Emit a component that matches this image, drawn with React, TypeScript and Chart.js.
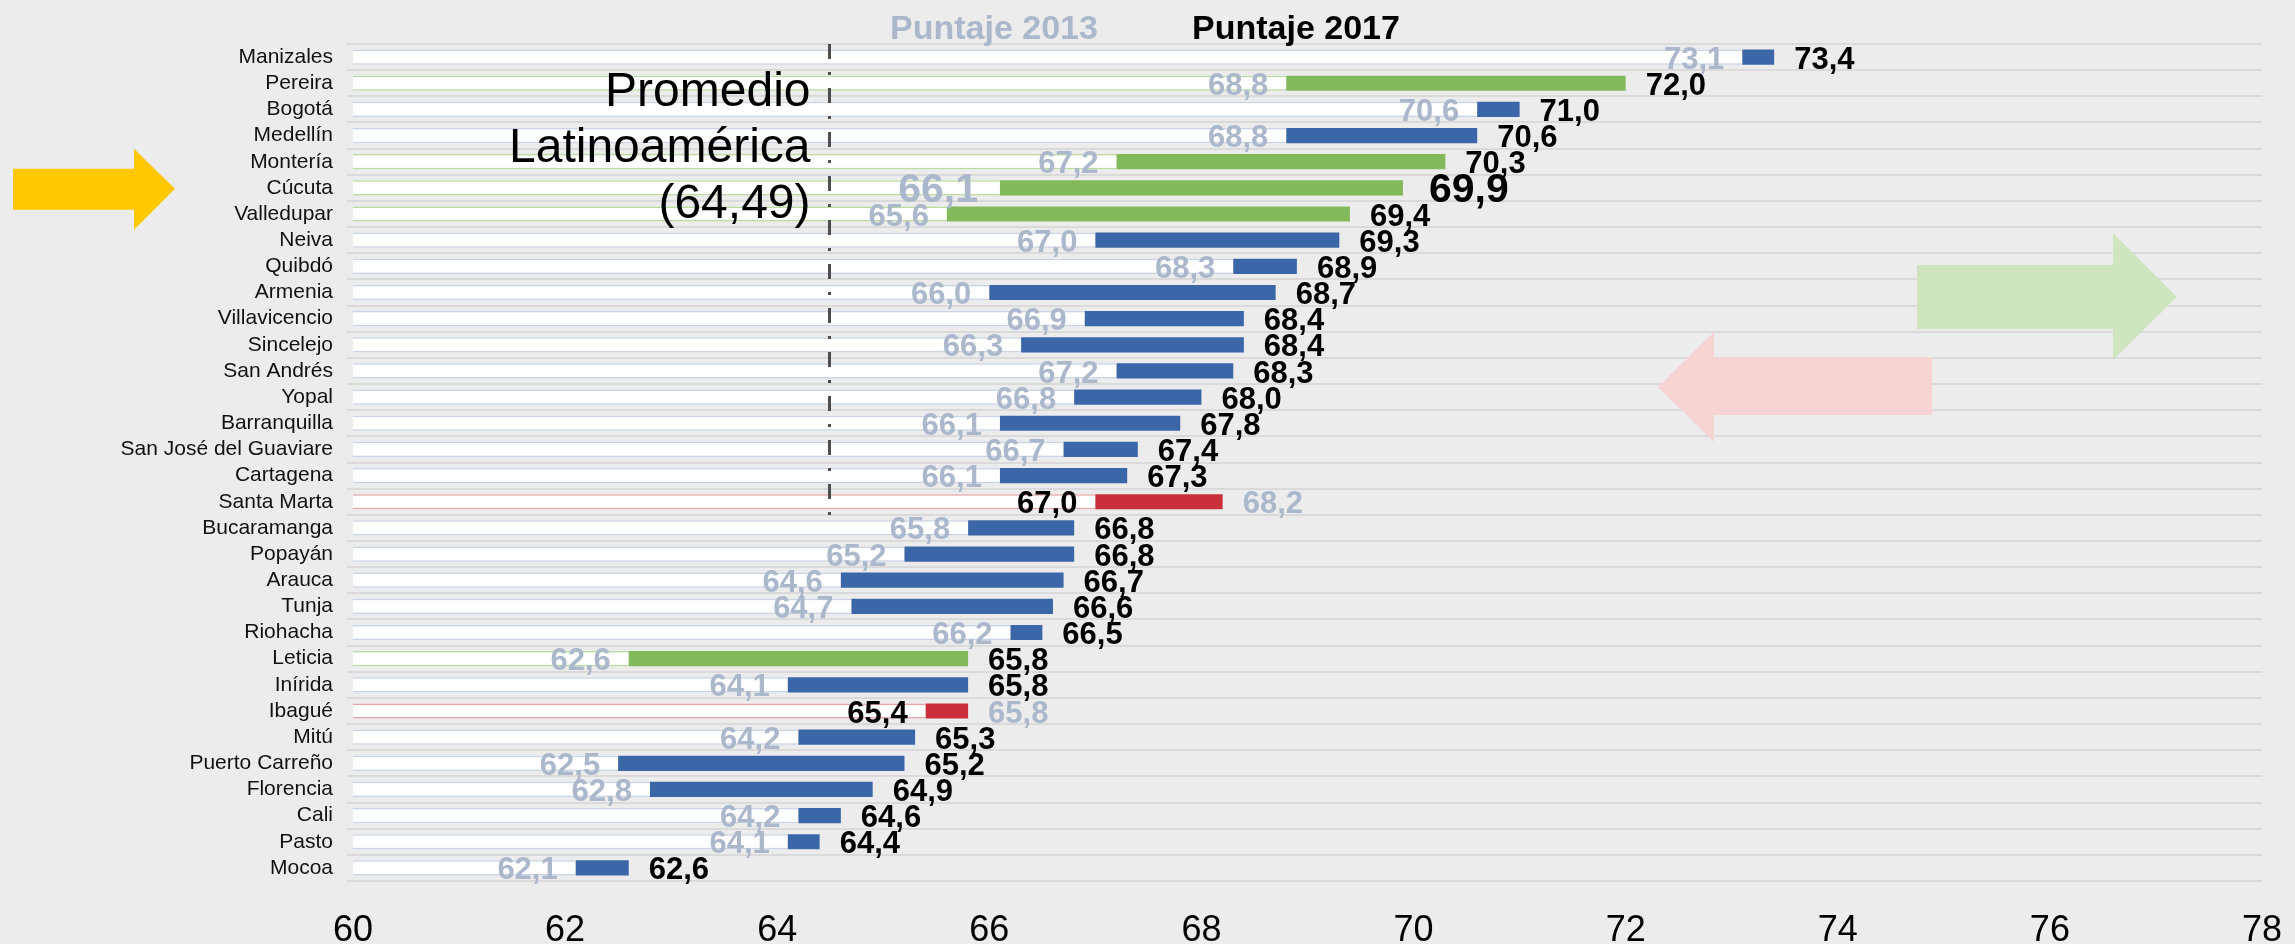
import React, { useEffect, useRef } from 'react';
import { Chart, registerables } from 'chart.js';

Chart.register(...registerables);

// ---------------- Datos ----------------
const ciudades = [
  'Manizales', 'Pereira', 'Bogotá', 'Medellín', 'Montería', 'Cúcuta', 'Valledupar', 'Neiva',
  'Quibdó', 'Armenia', 'Villavicencio', 'Sincelejo', 'San Andrés', 'Yopal', 'Barranquilla',
  'San José del Guaviare', 'Cartagena', 'Santa Marta', 'Bucaramanga', 'Popayán', 'Arauca',
  'Tunja', 'Riohacha', 'Leticia', 'Inírida', 'Ibagué', 'Mitú', 'Puerto Carreño', 'Florencia',
  'Cali', 'Pasto', 'Mocoa',
];
const puntaje2013 = [
  73.1, 68.8, 70.6, 68.8, 67.2, 66.1, 65.6, 67.0,
  68.3, 66.0, 66.9, 66.3, 67.2, 66.8, 66.1,
  66.7, 66.1, 68.2, 65.8, 65.2, 64.6,
  64.7, 66.2, 62.6, 64.1, 65.8, 64.2, 62.5, 62.8,
  64.2, 64.1, 62.1,
];
const puntaje2017 = [
  73.4, 72.0, 71.0, 70.6, 70.3, 69.9, 69.4, 69.3,
  68.9, 68.7, 68.4, 68.4, 68.3, 68.0, 67.8,
  67.4, 67.3, 67.0, 66.8, 66.8, 66.7,
  66.6, 66.5, 65.8, 65.8, 65.4, 65.3, 65.2, 64.9,
  64.6, 64.4, 62.6,
];
const grupo = [
  'azul', 'verde', 'azul', 'azul', 'verde', 'verde', 'verde', 'azul',
  'azul', 'azul', 'azul', 'azul', 'azul', 'azul', 'azul',
  'azul', 'azul', 'rojo', 'azul', 'azul', 'azul',
  'azul', 'azul', 'verde', 'azul', 'rojo', 'azul', 'azul', 'azul',
  'azul', 'azul', 'azul',
];
const ticksX = [60, 62, 64, 66, 68, 70, 72, 74, 76, 78];
const promedioLatam = 64.49;
const ciudadDestacada = 'Cúcuta';
const ciudadFinPromedio = 'Bucaramanga';
const titulo2013 = 'Puntaje 2013';
const titulo2017 = 'Puntaje 2017';
const textoPromedio = ['Promedio', 'Latinoamérica', '(64,49)'];

// ---------------- Estilo ----------------
const FONT = '"Liberation Sans", Arial, Helvetica, sans-serif';
const COLORES: Record<string, string> = { azul: '#3b67a8', verde: '#81b95b', rojo: '#c9303a' };
const BORDES: Record<string, string> = { azul: '#c9d5e7', verde: '#b9dc9f', rojo: '#eba4a8' };
const GRIS = '#abb8cb';
const FONDO = '#ececec';

const fmt = (v: number) => v.toFixed(1).replace('.', ',');

const fondoPlugin = {
  id: 'fondo',
  beforeDraw(chart: any) {
    const { ctx, width, height } = chart;
    ctx.save();
    ctx.fillStyle = FONDO;
    ctx.fillRect(0, 0, width, height);
    ctx.restore();
  },
};

function flecha(ctx: CanvasRenderingContext2D, pts: number[][], color: string) {
  ctx.beginPath();
  ctx.moveTo(pts[0][0], pts[0][1]);
  for (let i = 1; i < pts.length; i++) ctx.lineTo(pts[i][0], pts[i][1]);
  ctx.closePath();
  ctx.fillStyle = color;
  ctx.fill();
}

const decoracionesPlugin = {
  id: 'decoraciones',
  afterDatasetsDraw(chart: any) {
    const { ctx, chartArea } = chart;
    const xs = chart.scales.x;
    const ys = chart.scales.y;
    ctx.save();

    // Línea promedio Latinoamérica
    const xp = Math.round(xs.getPixelForValue(promedioLatam)) + 0.5;
    const yFin = ys.getPixelForValue(ciudades.indexOf(ciudadFinPromedio)) - 9;
    ctx.strokeStyle = '#4d4d4d';
    ctx.lineWidth = 3;
    ctx.setLineDash([15, 13, 3, 13]);
    ctx.beginPath();
    ctx.moveTo(xp, chartArea.top);
    ctx.lineTo(xp, yFin);
    ctx.stroke();
    ctx.setLineDash([]);

    // Texto promedio
    ctx.fillStyle = '#000';
    ctx.font = `48px ${FONT}`;
    ctx.textAlign = 'right';
    ctx.textBaseline = 'alphabetic';
    textoPromedio.forEach((t, i) => {
      ctx.fillText(t, xp - 19, chartArea.top + 62 + i * 56);
    });

    // Títulos
    ctx.font = `bold 34px ${FONT}`;
    ctx.textAlign = 'center';
    ctx.fillStyle = GRIS;
    ctx.fillText(titulo2013, 994, 39);
    ctx.fillStyle = '#000';
    ctx.fillText(titulo2017, 1296, 39);

    // Etiquetas de valores
    ctx.textBaseline = 'middle';
    ciudades.forEach((c, i) => {
      const a = puntaje2013[i];
      const b = puntaje2017[i];
      const y = ys.getPixelForValue(i) + 3;
      const grande = c === ciudadDestacada;
      ctx.font = `bold ${grande ? 41 : 31}px ${FONT}`;
      const x0 = xs.getPixelForValue(Math.min(a, b));
      const x1 = xs.getPixelForValue(Math.max(a, b));
      const gapL = grande ? 22 : 18;
      const gapR = grande ? 26 : 20;
      const izq = b >= a ? { t: fmt(a), c: GRIS } : { t: fmt(b), c: '#000' };
      const der = b >= a ? { t: fmt(b), c: '#000' } : { t: fmt(a), c: GRIS };
      ctx.textAlign = 'right';
      ctx.fillStyle = izq.c;
      ctx.fillText(izq.t, x0 - gapL, y);
      ctx.textAlign = 'left';
      ctx.fillStyle = der.c;
      ctx.fillText(der.t, x1 + gapR, y);
    });

    // Flechas decorativas
    const yc = ys.getPixelForValue(ciudades.indexOf(ciudadDestacada));
    flecha(ctx, [
      [13, yc - 19], [134, yc - 19], [134, yc - 39], [175, yc + 1],
      [134, yc + 42], [134, yc + 22], [13, yc + 22],
    ], '#ffc800');
    flecha(ctx, [
      [1917, 265], [2113, 265], [2113, 233], [2177, 297],
      [2113, 360], [2113, 329], [1917, 329],
    ], '#cfe5c0');
    flecha(ctx, [
      [1932, 357], [1714, 357], [1714, 332], [1658, 387],
      [1714, 442], [1714, 415], [1932, 415],
    ], '#f7d3d4');

    ctx.restore();
  },
};

export default function App() {
  const ref = useRef<HTMLCanvasElement | null>(null);

  useEffect(() => {
    document.body.style.margin = '0';
    const canvas = ref.current;
    if (!canvas) return;

    const base = ciudades.map((_, i) => [60, Math.min(puntaje2013[i], puntaje2017[i])]);
    const cambio = ciudades.map((_, i) => [
      Math.min(puntaje2013[i], puntaje2017[i]),
      Math.max(puntaje2013[i], puntaje2017[i]),
    ]);

    const chart = new Chart(canvas, {
      type: 'bar',
      data: {
        labels: ciudades,
        datasets: [
          {
            label: 'Cambio',
            data: cambio as any,
            backgroundColor: grupo.map((g) => COLORES[g]),
            borderWidth: 0,
            grouped: false,
            categoryPercentage: 1,
            barPercentage: 0.58,
          },
          {
            label: 'Base',
            data: base as any,
            backgroundColor: '#ffffff',
            borderColor: grupo.map((g) => BORDES[g]),
            borderWidth: { top: 1.5, bottom: 1.5, left: 0, right: 0 } as any,
            borderSkipped: false,
            grouped: false,
            categoryPercentage: 1,
            barPercentage: 0.58,
          },
        ],
      },
      options: {
        indexAxis: 'y',
        responsive: false,
        animation: false,
        devicePixelRatio: 1,
        layout: { padding: { top: 44, right: 33, left: 0, bottom: 0 } },
        plugins: {
          legend: { display: false },
          tooltip: { enabled: false },
        },
        scales: {
          x: {
            type: 'linear',
            min: 60,
            max: 78,
            afterBuildTicks: (s: any) => {
              s.ticks = ticksX.map((v) => ({ value: v }));
            },
            afterFit: (s: any) => {
              s.height = 63;
              s.paddingLeft = 0;
              s.paddingRight = 0;
            },
            grid: { display: false, drawTicks: false },
            border: { display: false },
            ticks: {
              padding: 28,
              color: '#000',
              font: { family: FONT, size: 36 },
              callback: (v: any) => String(v),
            },
          },
          y: {
            type: 'category',
            afterFit: (s: any) => {
              s.width = 353;
              s.paddingTop = 0;
              s.paddingBottom = 0;
            },
            grid: {
              color: '#dadada',
              lineWidth: 2,
              offset: true,
              drawTicks: true,
              tickLength: 6,
            },
            border: { display: false },
            ticks: {
              padding: 14,
              color: '#111',
              font: { family: FONT, size: 21 },
              autoSkip: false,
            },
          },
        },
      },
      plugins: [fondoPlugin, decoracionesPlugin],
    });

    return () => chart.destroy();
  }, []);

  return (
    <div style={{ width: 2295, height: 944 }}>
      <canvas ref={ref} width={2295} height={944} style={{ display: 'block' }} />
    </div>
  );
}
